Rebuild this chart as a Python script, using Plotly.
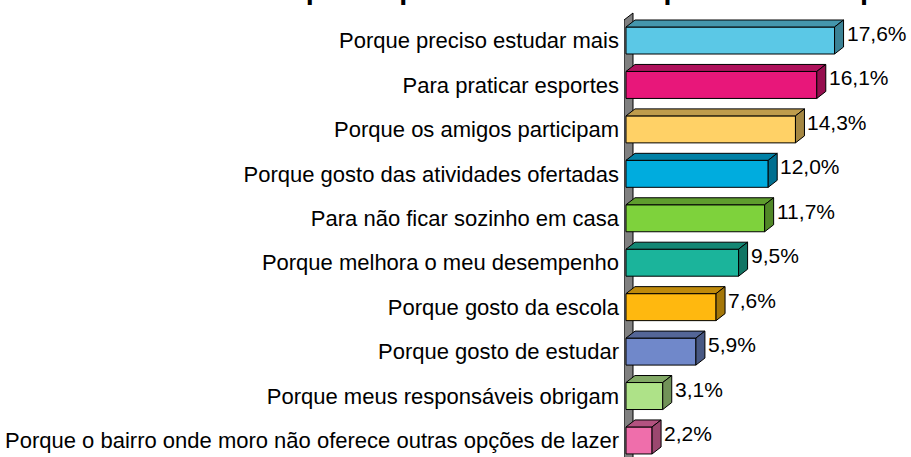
import plotly.graph_objects as go

categories = [
    "Porque preciso estudar mais",
    "Para praticar esportes",
    "Porque os amigos participam",
    "Porque gosto das atividades ofertadas",
    "Para não ficar sozinho em casa",
    "Porque melhora o meu desempenho",
    "Porque gosto da escola",
    "Porque gosto de estudar",
    "Porque meus responsáveis obrigam",
    "Porque o bairro onde moro não oferece outras opções de lazer",
]
values = [17.6, 16.1, 14.3, 12.0, 11.7, 9.5, 7.6, 5.9, 3.1, 2.2]
labels = ["17,6%", "16,1%", "14,3%", "12,0%", "11,7%", "9,5%", "7,6%", "5,9%", "3,1%", "2,2%"]
front_colors = ["#5BC8E6", "#E8177A", "#FFD166", "#00ACDE", "#7ED23C",
                "#1BB49B", "#FFB80F", "#7088CA", "#AEE288", "#EF6EAB"]
title_text = "Gráfico 10 – Motivos pelos quais os alunos frequentam o tempo integral"


def shade(hexc, f):
    h = hexc.lstrip("#")
    r, g, b = (int(h[i:i + 2], 16) for i in (0, 2, 4))
    return "rgb(%d,%d,%d)" % (r * f, g * f, b * f)


W = 911
H = 457
L = 624
px_per_x = 11.85
row = 44.44
x_lo = -(626 - L) / px_per_x
x_hi = x_lo + (W - L) / px_per_x
y_lo = -40.5 / row
y_hi = y_lo + H / row

bw = 27 / row          # bar thickness in category units
dx = 9 / px_per_x      # depth offset in x units
dy = 7 / row           # depth offset in category units

ypos = list(range(len(categories)))
FONT = "Liberation Sans, Arial, sans-serif"

fig = go.Figure()

fig.add_trace(go.Bar(
    x=values, y=ypos, orientation="h", width=bw,
    marker=dict(color=front_colors, line=dict(color="black", width=1)),
    hoverinfo="skip", showlegend=False,
))

for i, v in enumerate(values):
    yt = i - bw / 2
    yb = i + bw / 2
    # top face
    fig.add_trace(go.Scatter(
        x=[0, v, v + dx, dx, 0], y=[yt, yt, yt - dy, yt - dy, yt],
        mode="lines", fill="toself", fillcolor=shade(front_colors[i], 0.75),
        line=dict(color="black", width=1), hoverinfo="skip", showlegend=False,
    ))
    # side face
    fig.add_trace(go.Scatter(
        x=[v, v + dx, v + dx, v, v], y=[yt, yt - dy, yb - dy, yb, yt],
        mode="lines", fill="toself", fillcolor=shade(front_colors[i], 0.65),
        line=dict(color="black", width=1), hoverinfo="skip", showlegend=False,
    ))
    fig.add_annotation(
        x=v + dx, y=i, text=labels[i], showarrow=False,
        xanchor="left", yanchor="middle", xshift=1, yshift=7,
        font=dict(family=FONT, size=21, color="black"),
    )

# side wall
wall_front_x = x_lo
wall_back_x = x_lo + dx
wall_top = y_lo + 20 / row
wall_bottom = y_hi + 1
fig.add_shape(
    type="path", layer="below",
    path="M %f,%f L %f,%f L %f,%f L %f,%f Z" % (
        wall_front_x, wall_top, wall_back_x, wall_top - dy,
        wall_back_x, wall_bottom - dy, wall_front_x, wall_bottom),
    fillcolor="#808080", line=dict(color="black", width=1),
)

fig.add_annotation(
    xref="paper", yref="paper", x=0, y=1,
    xanchor="left", yanchor="bottom", xshift=12 - L, yshift=-7,
    text="<b>" + title_text + "</b>", showarrow=False,
    font=dict(family=FONT, size=29, color="black"),
)

fig.update_layout(
    width=W, height=H,
    margin=dict(l=L, r=0, t=0, b=0),
    paper_bgcolor="white", plot_bgcolor="white",
    font=dict(family=FONT, size=21, color="black"),
    xaxis=dict(range=[x_lo, x_hi], visible=False, showgrid=False, zeroline=False),
    yaxis=dict(range=[y_hi, y_lo], tickmode="array", tickvals=ypos, ticktext=categories,
               showgrid=False, zeroline=False, showline=False, ticks="",
               ticklabelstandoff=4, tickfont=dict(size=22), automargin=False),
)

fig.write_html("out.html", config={"displayModeBar": False},
               post_script="document.body.style.margin='0px';document.body.style.overflow='hidden';")
